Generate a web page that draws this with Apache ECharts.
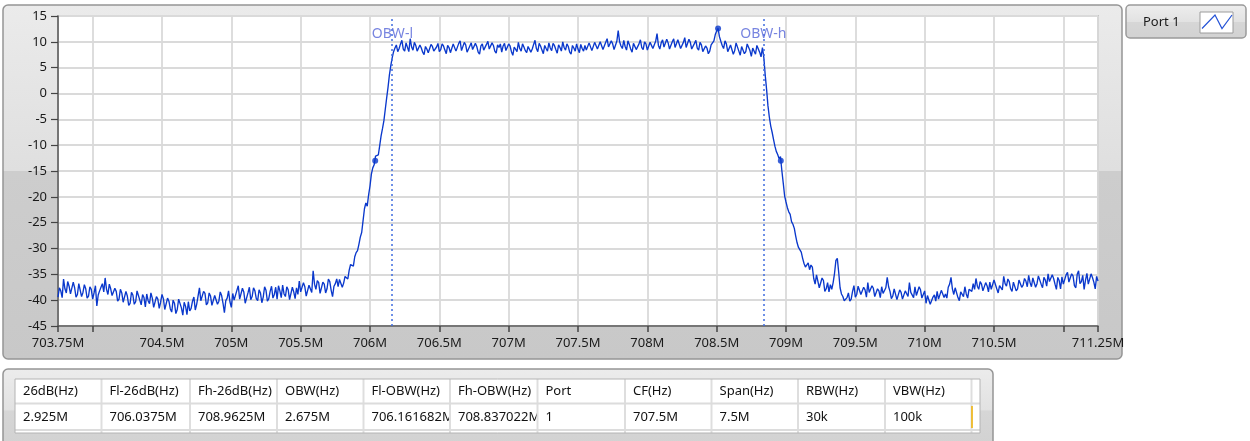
<!DOCTYPE html>
<html><head><meta charset="utf-8">
<script src="https://cdn.jsdelivr.net/npm/echarts@6/dist/echarts.min.js"></script>
<style>html,body{margin:0;padding:0;background:#fff;}#c{width:1250px;height:441px;}</style>
</head><body><div id="c"></div>
<script>
// ---- data (sweep 703.75M .. 711.25M, 10 kHz steps) ----
const freqStartMHz = 703.75;
const freqStepMHz = 0.01;
const levelDb = [
-39.4,-37.6,-38.2,-39.5,-35.9,-37.8,-38.6,-36.4,-37.3,-38.8,-39.0,-36.5,-37.6,-39.4,-38.9,-36.8,-37.1,-39.3,-38.5,-37.0,
-37.8,-39.6,-39.2,-37.4,-37.9,-39.8,-38.6,-37.2,-41.1,-39.0,-38.2,-37.5,-36.8,-38.4,-35.7,-37.9,-38.9,-36.9,-37.8,-39.1,
-39.4,-37.7,-38.3,-40.2,-39.8,-37.9,-38.6,-40.4,-40.1,-38.3,-39.2,-41.0,-40.6,-38.5,-39.0,-40.8,-40.3,-38.2,-39.1,-40.0,
-40.9,-38.9,-39.5,-41.3,-38.8,-40.1,-40.7,-38.6,-39.6,-41.4,-41.2,-39.3,-39.8,-41.6,-40.4,-38.9,-39.7,-41.8,-41.5,-39.6,
-40.2,-41.7,-42.3,-40.0,-40.6,-42.6,-41.8,-39.8,-40.1,-41.5,-42.9,-40.4,-41.2,-42.8,-40.3,-42.1,-41.6,-40.2,-39.4,-41.9,
-40.8,-39.2,-37.6,-40.1,-39.9,-38.3,-38.7,-40.9,-40.5,-38.6,-39.2,-41.0,-40.7,-39.1,-38.9,-40.8,-40.2,-38.4,-39.1,-40.6,
-42.4,-40.1,-39.6,-38.2,-40.3,-41.4,-38.7,-40.0,-39.9,-38.1,-37.2,-39.8,-39.6,-37.7,-38.4,-40.6,-40.9,-38.6,-37.5,-39.9,
-39.3,-37.6,-38.2,-39.7,-40.1,-38.0,-38.6,-40.5,-39.4,-37.4,-38.1,-40.2,-39.7,-38.3,-37.3,-39.6,-38.9,-37.5,-39.8,-37.2,
-38.2,-39.5,-37.1,-38.8,-39.3,-37.4,-38.0,-39.9,-39.6,-37.5,-38.4,-39.7,-37.6,-38.9,-36.3,-38.4,-38.7,-36.6,-37.4,-39.2,
-38.9,-37.1,-36.8,-38.5,-34.3,-36.9,-37.9,-36.2,-36.6,-38.7,-38.4,-36.5,-36.9,-38.6,-37.8,-35.9,-36.4,-38.1,-39.3,-37.3,
-36.8,-35.9,-37.4,-36.0,-36.1,-37.5,-36.7,-35.4,-35.3,-35.9,-34.2,-33.1,-32.9,-33.4,-31.6,-30.8,-30.4,-29.2,-27.8,-26.9,
-24.6,-22.3,-21.2,-21.8,-19.6,-17.9,-15.6,-14.4,-13.8,-12.1,-12.4,-11.9,-10.1,-8.2,-6.8,-5.3,-3.1,-0.9,1.2,3.6,
5.4,6.9,8.1,8.8,9.4,8.1,8.7,9.6,10.3,8.6,8.2,9.8,9.6,8.1,10.6,9.0,8.4,9.9,9.3,8.2,
7.9,9.4,8.8,8.0,7.5,9.1,8.6,7.9,7.8,9.5,9.1,8.2,8.3,9.0,9.7,8.1,8.5,9.6,9.2,8.4,
7.7,9.3,8.9,7.9,8.1,9.6,9.5,8.2,8.4,9.7,10.2,8.3,8.6,9.9,9.4,8.0,7.9,9.2,9.8,8.5,
8.3,9.7,9.1,8.0,7.6,9.2,9.6,8.4,8.2,9.5,10.1,8.6,8.7,9.8,9.3,8.2,7.8,9.4,8.9,9.6,
8.0,9.2,9.7,8.3,8.4,9.6,9.2,8.1,7.4,9.0,8.8,8.1,9.9,8.7,8.2,9.6,9.0,8.3,7.9,9.1,
9.4,8.0,8.6,9.5,10.3,8.7,8.1,9.7,9.2,8.4,7.7,9.3,8.7,8.2,9.8,8.8,8.3,9.7,9.3,8.5,
7.8,9.4,8.9,8.2,10.0,8.9,8.4,9.6,9.1,8.0,7.6,9.3,8.8,8.2,9.6,8.6,7.9,9.5,8.7,8.2,
9.3,8.4,8.1,9.8,9.5,8.3,8.4,9.9,10.1,8.6,8.8,10.0,9.7,8.5,8.2,9.9,10.6,9.0,8.9,10.2,
9.6,8.5,8.3,10.1,12.2,10.0,9.2,8.7,10.3,9.1,8.4,10.2,9.5,8.6,8.0,9.7,9.9,8.5,8.7,9.6,
10.4,8.9,8.5,10.0,9.6,8.4,8.2,9.9,10.2,8.7,9.0,10.1,11.6,9.3,8.6,9.8,10.4,9.0,8.9,10.5,
9.8,8.6,8.3,10.0,10.6,8.9,9.1,10.4,10.1,8.7,8.5,9.9,10.8,8.9,9.2,10.5,9.9,8.6,8.7,9.7,
10.3,8.8,8.4,9.9,9.4,8.1,7.9,9.2,8.8,7.7,8.2,9.4,9.3,10.2,11.4,12.1,12.6,11.0,10.1,9.3,
8.7,10.2,9.6,8.1,7.8,9.4,9.1,7.6,8.3,9.8,9.7,8.2,7.4,9.1,8.9,7.7,8.1,9.6,9.5,8.3,
7.2,8.8,8.6,7.6,9.3,9.5,8.0,7.1,8.9,7.0,3.6,0.8,-2.4,-4.6,-6.3,-7.5,-8.9,-10.2,-11.2,-11.8,
-12.6,-12.2,-14.9,-17.3,-19.8,-21.0,-22.1,-22.9,-23.4,-24.8,-25.3,-26.1,-27.6,-28.9,-29.8,-29.6,-30.7,-31.9,-32.9,-33.6,
-33.4,-32.8,-34.1,-33.2,-33.6,-35.8,-36.9,-35.1,-35.4,-37.6,-37.3,-35.7,-36.2,-38.3,-37.8,-36.6,-38.4,-37.0,-37.9,-36.6,
-34.8,-32.3,-31.9,-34.6,-37.6,-38.8,-39.3,-40.1,-40.4,-39.5,-38.6,-40.2,-39.8,-38.3,-37.2,-39.4,-38.9,-37.3,-37.6,-38.9,
-39.1,-37.5,-38.0,-39.4,-36.6,-38.5,-38.8,-37.2,-37.7,-39.3,-39.4,-37.8,-38.2,-39.5,-37.4,-38.7,-38.9,-37.6,-35.6,-37.4,
-38.3,-39.7,-39.2,-37.8,-38.1,-39.9,-39.6,-38.0,-38.5,-39.8,-39.9,-38.2,-38.4,-39.3,-36.6,-38.5,-38.2,-39.5,-37.4,-39.1,
-38.8,-37.4,-38.0,-39.6,-39.3,-38.2,-40.6,-39.1,-39.2,-40.8,-40.9,-39.4,-39.0,-40.2,-38.3,-39.8,-39.6,-38.1,-37.9,-39.5,
-38.8,-39.6,-37.5,-36.9,-35.6,-37.8,-38.9,-37.6,-37.8,-39.5,-40.1,-38.4,-38.2,-39.3,-37.4,-38.8,-39.6,-37.9,-37.7,-38.3,
-36.8,-37.9,-35.8,-37.3,-37.9,-36.4,-36.9,-38.2,-38.1,-36.6,-37.2,-38.4,-36.5,-37.9,-37.6,-36.1,-36.2,-37.8,-38.6,-37.2,
-36.9,-38.0,-35.4,-36.8,-37.3,-35.9,-36.4,-37.8,-38.3,-36.5,-36.7,-38.2,-37.8,-36.1,-35.9,-37.5,-37.1,-35.8,-36.3,-37.4,
-35.2,-36.6,-37.4,-35.7,-36.0,-37.5,-36.8,-35.3,-35.4,-36.9,-37.6,-35.6,-36.1,-37.3,-34.9,-36.4,-36.7,-35.1,-35.8,-36.9,
-37.9,-35.6,-36.2,-37.8,-35.5,-36.9,-37.2,-35.1,-34.6,-36.5,-36.8,-34.9,-35.3,-37.2,-37.6,-35.0,-34.3,-36.8,-36.4,-35.2,
-37.9,-36.1,-34.8,-36.9,-36.7,-34.9,-35.6,-36.5,-37.8,-35.4,-36.3
];
const xTickValues = [703.75,704,704.5,705,705.5,706,706.5,707,707.5,708,708.5,709,709.5,710,710.5,711,711.25];
const xLabelValues = [703.75,704.5,705,705.5,706,706.5,707,707.5,708,708.5,709,709.5,710,710.5,711.25];
const obwNames = ['OBW-l','OBW-h'];
const obwFreqs = [706.161682, 708.837022];
const obwLabelLevel = 11.5;
const cursorDots = [[706.0375,-13],[708.9625,-13],[708.51,12.6]];
const legendName = 'Port 1';
const tableHeaders = ['26dB(Hz)','Fl-26dB(Hz)','Fh-26dB(Hz)','OBW(Hz)','Fl-OBW(Hz)','Fh-OBW(Hz)','Port','CF(Hz)','Span(Hz)','RBW(Hz)','VBW(Hz)',''];
const tableValues = ['2.925M','706.0375M','708.9625M','2.675M','706.161682M','708.837022M','1','707.5M','7.5M','30k','100k',''];

// ---- layout / style ----
const FONT = '"Noto Sans", "DejaVu Sans", sans-serif';
const traceColor = '#0a38cc';
const colEdges = [15,101.5,190,277,363.5,450,537.5,625,711.5,798,885,971.5,980];

const seriesData = levelDb.map((v,i)=>[Math.round((freqStartMHz + i*freqStepMHz)*10000)/10000, v]);

const chart = echarts.init(document.getElementById('c'), null, {renderer:'canvas'});

const g = [];
function vgrad(stops){ return {type:'linear',x:0,y:0,x2:0,y2:1,colorStops:stops.map(s=>({offset:s[0],color:s[1]}))}; }
// graph frame
g.push({type:'rect', z:-5, shape:{x:3,y:5,width:1119,height:354,r:5},
  style:{fill:vgrad([[0,'#ebebeb'],[0.468,'#dfdfdf'],[0.47,'#cdcdcd'],[1,'#c8c8c8']]), stroke:'#959595', lineWidth:1.5}});
// legend box
g.push({type:'rect', z:-5, shape:{x:1126,y:5,width:120,height:33,r:4},
  style:{fill:vgrad([[0,'#eeeeee'],[0.5,'#e2e2e2'],[0.52,'#d6d6d6'],[1,'#d2d2d2']]), stroke:'#9a9a9a', lineWidth:1.5}});
g.push({type:'text', z:5, style:{x:1143,y:22,text:legendName,font:'13px '+FONT,fill:'#1a1a1a',verticalAlign:'middle'}});
g.push({type:'rect', z:5, shape:{x:1200,y:12,width:33,height:21}, style:{fill:'#ffffff',stroke:'#9c9c9c',lineWidth:1}});
g.push({type:'polyline', z:6, shape:{points:[[1202,28.5],[1215,15],[1222,28.5],[1232,15]]}, style:{stroke:'#2452d6',lineWidth:1.2,fill:null}});
// table frame
g.push({type:'rect', z:-5, shape:{x:3,y:369,width:990,height:90,r:5},
  style:{fill:vgrad([[0,'#ececec'],[0.45,'#e2e2e2'],[0.47,'#d6d6d6'],[1,'#d0d0d0']]), stroke:'#959595', lineWidth:1.5}});
// table cells
for (let i=0;i<colEdges.length-1;i++){
  const x0 = colEdges[i], x1 = colEdges[i+1];
  g.push({type:'rect', z:20+2*i, shape:{x:x0,y:379,width:x1-x0,height:54}, style:{fill:'#ffffff'}});
  g.push({type:'text', z:21+2*i, style:{x:x0+8,y:391.5,text:tableHeaders[i],font:'13px '+FONT,fill:'#111',verticalAlign:'middle'}});
  g.push({type:'text', z:21+2*i, style:{x:x0+8,y:417.5,text:tableValues[i],font:'13px '+FONT,fill:'#111',verticalAlign:'middle'}});
}
for (let i=1;i<colEdges.length-1;i++){
  g.push({type:'line', z:60, shape:{x1:colEdges[i],y1:379,x2:colEdges[i],y2:433}, style:{stroke:'#dedede',lineWidth:2}});
}
g.push({type:'line', z:60, shape:{x1:15,y1:403.5,x2:980,y2:403.5}, style:{stroke:'#dcdcdc',lineWidth:2}});
g.push({type:'line', z:60, shape:{x1:15,y1:430,x2:980,y2:430}, style:{stroke:'#dcdcdc',lineWidth:2}});
g.push({type:'line', z:61, shape:{x1:972,y1:406,x2:972,y2:428}, style:{stroke:'#f0b000',lineWidth:1.5}});
g.push({type:'rect', z:62, shape:{x:15,y:379,width:965,height:54}, style:{fill:null,stroke:'#b4b4b4',lineWidth:1}});

const option = {
  animation:false,
  backgroundColor:'#ffffff',
  textStyle:{fontFamily:FONT},
  grid:{left:58, top:16, right:152, bottom:115, show:true, backgroundColor:'#ffffff', borderColor:'#a8a8a8', borderWidth:1.5},
  xAxis:{type:'value', min:703.75, max:711.25,
    axisLine:{show:true, onZero:false, lineStyle:{color:'#555555', width:1.5}},
    axisTick:{show:true, inside:false, length:6, customValues:xTickValues, lineStyle:{color:'#444444', width:1.5}},
    axisLabel:{show:true, customValues:xLabelValues, formatter:v=>v+'M', color:'#1a1a1a', fontSize:13, fontFamily:FONT, margin:11, hideOverlap:false},
    splitLine:{show:true, lineStyle:{color:'#dadada', width:1.8}}},
  yAxis:{type:'value', min:-45, max:15, interval:5,
    axisLine:{show:true, onZero:false, lineStyle:{color:'#555555', width:1.5}},
    axisTick:{show:true, inside:false, length:7, lineStyle:{color:'#444444', width:1.2}},
    axisLabel:{color:'#1a1a1a', fontSize:13, fontFamily:FONT, margin:11},
    splitLine:{show:true, lineStyle:{color:'#dadada', width:1.8}}},
  series:[
    {type:'line', data:seriesData, showSymbol:false, symbol:'none', z:3, sampling:null,
     lineStyle:{color:traceColor, width:1.35}, silent:true,
     markLine:{silent:true, symbol:['none','none'], label:{show:false},
       lineStyle:{color:'#3f6ce0', type:[2,3], width:1.5},
       data:obwFreqs.map(f=>({xAxis:f}))}},
    {type:'scatter', data:cursorDots, symbol:'circle', symbolSize:6, z:4, itemStyle:{color:traceColor}, silent:true},
    {type:'scatter', z:5, silent:true, symbol:'circle', symbolSize:0.1, itemStyle:{color:'rgba(0,0,0,0)'},
     data:obwNames.map((n,i)=>({name:n, value:[obwFreqs[i], obwLabelLevel]})),
     label:{show:true, position:'inside', formatter:'{b}', color:'#5565d8', fontSize:14, fontFamily:FONT}}
  ],
  graphic:g
};
chart.setOption(option);
</script></body></html>
